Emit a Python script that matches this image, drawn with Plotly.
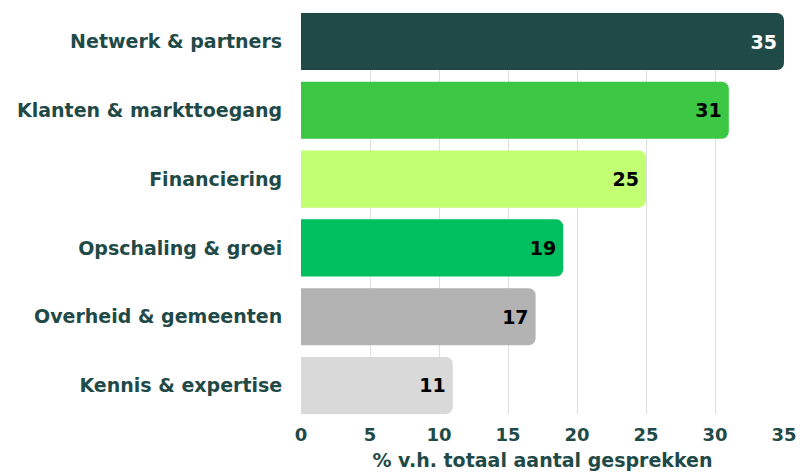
import plotly.graph_objects as go

categories = ["Netwerk & partners", "Klanten & markttoegang", "Financiering",
              "Opschaling & groei", "Overheid & gemeenten", "Kennis & expertise"]
values = [35, 31, 25, 19, 17, 11]
colors = ["#1f4a47", "#3cc845", "#c2ff72", "#00bf5f", "#b3b3b3", "#d9d9d9"]
label_colors = ["#ffffff", "#000000", "#000000", "#000000", "#000000", "#000000"]
x_ticks = [0, 5, 10, 15, 20, 25, 30, 35]

dark = "#1f4a47"
font_family = "DejaVu Sans"

fig = go.Figure(go.Bar(
    y=list(range(len(categories))),
    x=values,
    orientation="h",
    width=0.83,
    marker=dict(color=colors, cornerradius=7, line=dict(width=0)),
    text=[str(v) for v in values],
    textposition="inside",
    insidetextanchor="end",
    textfont=dict(family=font_family, size=19, color=label_colors, weight=700),
    hoverinfo="skip",
))

fig.update_layout(
    width=800, height=475,
    margin=dict(l=301, r=16, t=13, b=61),
    plot_bgcolor="white", paper_bgcolor="white",
    font=dict(family=font_family, color=dark),
    showlegend=False,
    xaxis=dict(
        range=[0, 35], tickvals=x_ticks, ticktext=[str(t) for t in x_ticks],
        showgrid=True, gridcolor="#dedede", gridwidth=1, zeroline=False,
        tickfont=dict(size=18, color=dark, weight=700),
        title=dict(text="% v.h. totaal aantal gesprekken",
                   font=dict(size=19, color=dark, weight=700), standoff=10),
        ticks="outside", ticklen=4, tickcolor="rgba(0,0,0,0)",
        automargin=False,
    ),
    yaxis=dict(
        range=[5.415, -0.415],
        tickvals=list(range(len(categories))), ticktext=categories,
        showgrid=False, zeroline=False,
        tickfont=dict(size=19, color=dark, weight=700),
        ticks="outside", ticklen=14, tickcolor="rgba(0,0,0,0)",
        automargin=False,
    ),
)

fig.write_html(
    "out.html",
    config={"displayModeBar": False},
    post_script="document.body.style.margin='0';document.body.style.overflow='hidden';",
)
